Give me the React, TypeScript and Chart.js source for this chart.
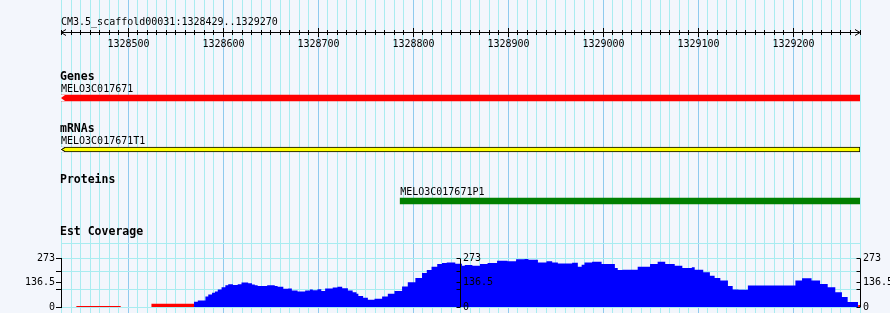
import React, { useEffect, useRef } from 'react';
import { Chart, registerables } from 'chart.js';

Chart.register(...registerables);

// ---------------- data ----------------
const refName = 'CM3.5_scaffold00031';
const regionStart = 1328429;
const regionEnd = 1329270;

const trackTitles = ['Genes', 'mRNAs', 'Proteins'];
const featureNames = ['MELO3C017671', 'MELO3C017671T1', 'MELO3C017671P1'];
const featureStarts = [1328429, 1328429, 1328786];
const featureEnds = [1329270, 1329270, 1329270];
const featureStrands = [-1, -1, 0];
const coverageTitle = 'Est Coverage';

// EST coverage (step starts in bp, depth)
const covStarts = [
  1328569, 1328573, 1328581, 1328584, 1328588, 1328591, 1328594, 1328598, 1328602, 1328605,
  1328610, 1328615, 1328619, 1328626, 1328630, 1328633, 1328636, 1328646, 1328654, 1328657,
  1328663, 1328668, 1328672, 1328678, 1328686, 1328691, 1328694, 1328699, 1328703, 1328707,
  1328715, 1328720, 1328725, 1328731, 1328736, 1328740, 1328742, 1328747, 1328752, 1328759,
  1328767, 1328773, 1328780, 1328788, 1328794, 1328802, 1328809, 1328814, 1328819, 1328825,
  1328830, 1328835, 1328844, 1328851, 1328854, 1328862, 1328870, 1328878, 1328888, 1328899,
  1328908, 1328917, 1328921, 1328931, 1328940, 1328946, 1328952, 1328967, 1328973, 1328977,
  1328980, 1328988, 1328998, 1329012, 1329015, 1329020, 1329036, 1329049, 1329057, 1329065,
  1329075, 1329083, 1329093, 1329096, 1329105, 1329112, 1329117, 1329123, 1329131, 1329136,
  1329142, 1329152, 1329202, 1329209, 1329219, 1329228, 1329236, 1329244, 1329251, 1329257,
  1329265, 1329268,
];
const covValues = [
  24, 30, 37, 60, 71, 80, 88, 99, 112, 123,
  129, 125, 129, 138, 134, 127, 123, 119, 123, 119,
  114, 103, 105, 93, 88, 93, 99, 95, 101, 90,
  105, 110, 114, 106, 93, 84, 75, 62, 52, 41,
  47, 60, 75, 90, 116, 140, 164, 192, 209, 228,
  243, 248, 252, 245, 233, 238, 233, 243, 248, 262,
  258, 270, 272, 267, 252, 258, 252, 246, 250, 228,
  239, 252, 256, 243, 220, 209, 211, 228, 243, 256,
  243, 233, 220, 224, 211, 196, 177, 164, 150, 118,
  99, 97, 121, 150, 162, 150, 130, 112, 84, 56,
  28, 28,
];
// low-coverage segments (drawn in red)
const lowStarts = [1328445, 1328492, 1328493, 1328524, 1328528, 1328569, 1328570, 1329268, 1329270];
const lowValues = [5, 5, null, 5, 18, 18, null, 12, 12];

const covMax = 273;
const covTickValues = [0, 100, 136.5, 200, 273];
const covTickLabels = ['0', '', '136.5', '', '273'];
const covExtraGrid = 360;
const rulerMinorStep = 10;
const rulerMajorStep = 100;

// ---------------- styles ----------------
const BG = '#f3f6fc';
const GRID_MINOR = '#a9ecf0';
const GRID_MAJOR = '#8fcaee';
const MONO = '"DejaVu Sans Mono", monospace';
const FONT_REG = `10px ${MONO}`;
const FONT_BOLD = `bold 11.5px ${MONO}`;
const featureColors = ['#ff0000', '#ffff00', '#008000'];
const featureBorders = [0, 1, 0];
const featureThickness = [6, 5, 6];
const LEFT_AXIS_WIDTH = 61;

const alignPx = (p: number) => Math.round(p - 0.5) + 0.5;
const fixWidth = (scale: any) => {
  scale.width = LEFT_AXIS_WIDTH;
  scale.paddingTop = 0;
  scale.paddingBottom = 0;
};

export default function App() {
  const ref = useRef<HTMLCanvasElement>(null);

  useEffect(() => {
    document.body.style.margin = '0';
    const canvas = ref.current;
    if (!canvas) return;

    const gbrowse = {
      id: 'gbrowse',
      beforeDraw(chart: any) {
        const { ctx, width, height } = chart;
        ctx.save();
        ctx.fillStyle = BG;
        ctx.fillRect(0, 0, width, height);
        ctx.restore();
      },
      beforeDatasetsDraw(chart: any) {
        const { ctx, chartArea } = chart;
        const yc = chart.scales.yCov;
        const y = alignPx(yc.getPixelForValue(covExtraGrid));
        ctx.save();
        ctx.strokeStyle = GRID_MINOR;
        ctx.lineWidth = 1;
        ctx.beginPath();
        ctx.moveTo(chartArea.left, y);
        ctx.lineTo(chartArea.right, y);
        ctx.stroke();
        ctx.restore();
      },
      afterDatasetsDraw(chart: any) {
        const { ctx } = chart;
        const xs = chart.scales.x;
        const yt = chart.scales.yTracks;
        const yc = chart.scales.yCov;
        ctx.save();
        ctx.fillStyle = '#000';
        ctx.strokeStyle = '#000';
        ctx.lineWidth = 1;

        // arrowheads on minus-strand features
        featureStrands.forEach((strand, i) => {
          if (strand >= 0) return;
          const el: any = chart.getDatasetMeta(i).data[i];
          if (!el) return;
          const left = Math.min(el.x, el.base);
          const top = el.y - el.height / 2;
          const bottom = el.y + el.height / 2;
          ctx.fillStyle = BG;
          ctx.beginPath();
          ctx.moveTo(left - 1, top);
          ctx.lineTo(left + 4, top);
          ctx.lineTo(left, el.y);
          ctx.lineTo(left - 1, el.y);
          ctx.closePath();
          ctx.fill();
          ctx.beginPath();
          ctx.moveTo(left - 1, bottom);
          ctx.lineTo(left + 4, bottom);
          ctx.lineTo(left, el.y);
          ctx.lineTo(left - 1, el.y);
          ctx.closePath();
          ctx.fill();
          if (featureBorders[i]) {
            ctx.strokeStyle = '#000';
            ctx.beginPath();
            ctx.moveTo(left + 4, top + 0.5);
            ctx.lineTo(left + 0.5, el.y);
            ctx.lineTo(left + 4, bottom - 0.5);
            ctx.stroke();
          }
        });
        ctx.fillStyle = '#000';

        // ruler
        const ry = 32.5;
        const xl = xs.getPixelForValue(regionStart);
        const xr = xs.getPixelForValue(regionEnd);
        ctx.beginPath();
        ctx.moveTo(xl, ry);
        ctx.lineTo(xr, ry);
        ctx.moveTo(xl + 5, ry - 3);
        ctx.lineTo(xl, ry);
        ctx.lineTo(xl + 5, ry + 3);
        ctx.moveTo(xr - 5, ry - 3);
        ctx.lineTo(xr, ry);
        ctx.lineTo(xr - 5, ry + 3);
        ctx.stroke();
        ctx.font = FONT_REG;
        ctx.textBaseline = 'alphabetic';
        ctx.textAlign = 'center';
        for (let v = Math.ceil(regionStart / rulerMinorStep) * rulerMinorStep; v <= regionEnd; v += rulerMinorStep) {
          const px = alignPx(xs.getPixelForValue(v));
          const major = v % rulerMajorStep === 0;
          ctx.beginPath();
          ctx.moveTo(px, major ? 28 : 30);
          ctx.lineTo(px, major ? 37 : 35);
          ctx.stroke();
          if (major) ctx.fillText(String(v), px, 46.5);
        }

        // title
        ctx.textAlign = 'left';
        ctx.fillText(`${refName}:${regionStart}..${regionEnd}`, xs.left, 25);

        // track titles & feature labels
        trackTitles.forEach((t, i) => {
          const cy = yt.getPixelForValue(i);
          ctx.font = FONT_BOLD;
          ctx.fillText(t, xs.left - 1, cy - 17.7);
          ctx.font = FONT_REG;
          ctx.fillText(featureNames[i], xs.getPixelForValue(featureStarts[i]), cy - 5.6);
        });
        ctx.font = FONT_BOLD;
        ctx.fillText(coverageTitle, xs.left - 1, yc.top - 23.7);

        // middle and right coverage axes
        const axesX = [xs.getPixelForValue((regionStart + regionEnd) / 2), xs.right];
        ctx.font = FONT_REG;
        ctx.textBaseline = 'middle';
        axesX.forEach((ax) => {
          const px = alignPx(ax);
          ctx.beginPath();
          ctx.moveTo(px, yc.getPixelForValue(0));
          ctx.lineTo(px, yc.getPixelForValue(covMax));
          covTickValues.forEach((v) => {
            const ty = alignPx(yc.getPixelForValue(v));
            ctx.moveTo(px - 4, ty);
            ctx.lineTo(px, ty);
          });
          ctx.stroke();
          covTickValues.forEach((v, k) => {
            if (covTickLabels[k]) ctx.fillText(covTickLabels[k], px + 2.5, yc.getPixelForValue(v));
          });
        });
        ctx.restore();
      },
    };

    const barDatasets = trackTitles.map((_, i) => ({
      type: 'bar' as const,
      label: featureNames[i],
      indexAxis: 'y' as const,
      xAxisID: 'x',
      yAxisID: 'yTracks',
      data: trackTitles.map((__, j) => (j === i ? [featureStarts[i], featureEnds[i]] : null)),
      backgroundColor: featureColors[i],
      borderColor: '#000',
      borderWidth: featureBorders[i],
      borderSkipped: false,
      barThickness: featureThickness[i],
      grouped: false,
    }));

    const chart = new Chart(canvas, {
      type: 'bar',
      data: {
        datasets: [
          ...barDatasets,
          {
            type: 'line',
            label: 'coverage',
            xAxisID: 'x',
            yAxisID: 'yCov',
            data: covStarts.map((x, i) => ({ x, y: covValues[i] })),
            stepped: 'after',
            fill: 'origin',
            backgroundColor: '#0000ff',
            borderColor: 'rgba(0,0,0,0)',
            borderWidth: 0,
            pointRadius: 0,
            spanGaps: false,
          },
          {
            type: 'line',
            label: 'low coverage',
            xAxisID: 'x',
            yAxisID: 'yCov',
            data: lowStarts.map((x, i) => ({ x, y: lowValues[i] })),
            stepped: 'after',
            fill: 'origin',
            backgroundColor: '#ff0000',
            borderColor: 'rgba(0,0,0,0)',
            borderWidth: 0,
            pointRadius: 0,
            spanGaps: false,
          },
        ] as any,
      },
      options: {
        animation: false,
        responsive: false,
        devicePixelRatio: 1,
        events: [],
        layout: { padding: { left: 0, right: 30, top: 0, bottom: 0 } },
        plugins: { legend: { display: false }, tooltip: { enabled: false } },
        scales: {
          x: {
            type: 'linear',
            position: 'bottom',
            min: regionStart,
            max: regionEnd,
            offset: false,
            afterBuildTicks: (scale: any) => {
              const t: any[] = [];
              for (let v = Math.ceil(regionStart / rulerMinorStep) * rulerMinorStep; v <= regionEnd; v += rulerMinorStep) t.push({ value: v });
              scale.ticks = t;
            },
            ticks: { display: false },
            grid: {
              offset: false,
              drawTicks: false,
              lineWidth: 1,
              color: (c: any) => (c.tick && c.tick.value % rulerMajorStep === 0 ? GRID_MAJOR : GRID_MINOR),
            },
            border: { display: false },
          },
          yTop: {
            type: 'linear', position: 'left', stack: 'rows', stackWeight: 72.25, weight: 5,
            display: false, min: 0, max: 1, afterFit: fixWidth,
          },
          yTracks: {
            type: 'category', labels: trackTitles, position: 'left', stack: 'rows',
            stackWeight: 154.5, weight: 4, display: false, offset: true, afterFit: fixWidth,
          },
          yGap: {
            type: 'linear', position: 'left', stack: 'rows', stackWeight: 31.95, weight: 3,
            display: false, min: 0, max: 1, afterFit: fixWidth,
          },
          yCov: {
            type: 'linear', position: 'left', stack: 'rows', stackWeight: 48.3, weight: 2,
            min: 0, max: covMax,
            afterBuildTicks: (scale: any) => {
              scale.ticks = covTickValues.map((value) => ({ value }));
            },
            afterFit: fixWidth,
            ticks: {
              autoSkip: false,
              padding: 1,
              color: '#000',
              font: { family: MONO, size: 10 },
              callback: (_v: any, i: number) => covTickLabels[i],
            },
            grid: {
              color: (c: any) => (c.tick && c.tick.value === 136.5 ? 'rgba(0,0,0,0)' : GRID_MINOR),
              tickColor: '#000',
              tickLength: 5,
              lineWidth: 1,
            },
            border: { display: true, color: '#000', width: 1 },
          },
          yBot: {
            type: 'linear', position: 'left', stack: 'rows', stackWeight: 6, weight: 1,
            display: false, min: 0, max: 1, afterFit: fixWidth,
          },
        } as any,
      },
      plugins: [gbrowse],
    });

    return () => chart.destroy();
  }, []);

  return (
    <div style={{ width: 890, height: 313 }}>
      <canvas ref={ref} width={890} height={313} style={{ display: 'block' }} />
    </div>
  );
}
